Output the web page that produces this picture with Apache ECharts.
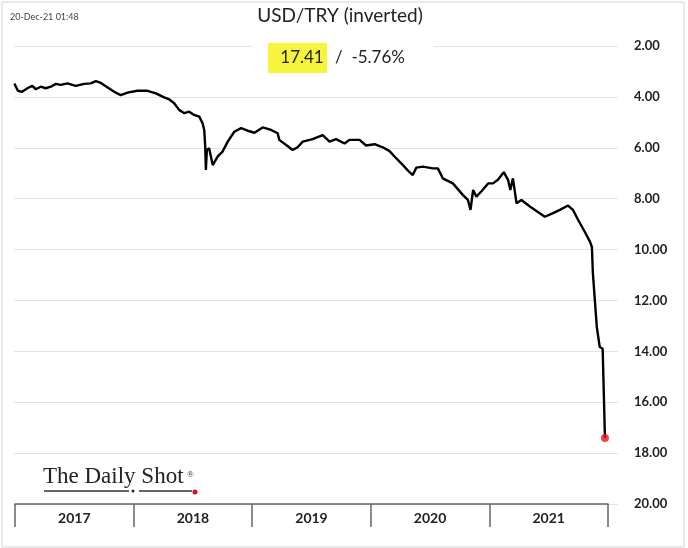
<!DOCTYPE html>
<html lang="en">
<head>
<meta charset="UTF-8">
<title>USD/TRY (inverted)</title>
<script src="https://cdn.jsdelivr.net/npm/echarts@6/dist/echarts.min.js"></script>
<style>
html, body { margin: 0; padding: 0; background: #fff; }
#chart { width: 688px; height: 548px; }
</style>
</head>
<body>
<div id="chart"></div>
<script>
// values (USD/TRY, axis inverted)
const dates = [
'2017-01-02','2017-01-06','2017-01-13','2017-01-26','2017-02-11','2017-02-26','2017-03-09','2017-03-24',
'2017-04-08','2017-04-24','2017-05-09','2017-05-24','2017-06-14','2017-07-09','2017-08-04','2017-08-24',
'2017-09-09','2017-09-24','2017-10-14','2017-11-04','2017-11-24','2017-12-15','2018-01-14','2018-02-14',
'2018-03-12','2018-04-06','2018-04-22','2018-05-07','2018-05-22','2018-06-07','2018-06-22','2018-07-07',
'2018-07-23','2018-08-02','2018-08-07','2018-08-10','2018-08-12','2018-08-15','2018-08-22','2018-09-02',
'2018-09-17','2018-10-02','2018-10-18','2018-11-07','2018-11-28','2018-12-18','2019-01-08','2019-02-02',
'2019-02-28','2019-03-20','2019-03-25','2019-04-15','2019-05-05','2019-05-20','2019-06-05','2019-07-05',
'2019-08-05','2019-08-26','2019-09-15','2019-10-11','2019-10-26','2019-11-26','2019-12-16','2020-01-11',
'2020-02-05','2020-02-26','2020-03-17','2020-04-07','2020-04-27','2020-05-07','2020-05-18','2020-06-07',
'2020-07-08','2020-07-23','2020-08-07','2020-09-07','2020-10-08','2020-10-23','2020-10-31','2020-11-08',
'2020-11-18','2020-12-03','2020-12-24','2021-01-08','2021-01-23','2021-02-10','2021-02-23','2021-03-02',
'2021-03-10','2021-03-21','2021-04-05','2021-05-01','2021-05-31','2021-06-16','2021-07-11','2021-08-01',
'2021-08-26','2021-09-10','2021-09-26','2021-10-16','2021-11-01','2021-11-07','2021-11-10','2021-11-16',
'2021-11-22','2021-12-01','2021-12-10','2021-12-17'
];
const rates = [
3.47,3.53,3.76,3.80,3.66,3.57,3.70,3.60,
3.66,3.60,3.49,3.53,3.47,3.57,3.49,3.47,
3.38,3.45,3.62,3.80,3.93,3.83,3.76,3.76,
3.86,4.02,4.10,4.25,4.51,4.64,4.58,4.71,
4.78,5.04,5.30,5.95,6.87,6.09,6.02,6.68,
6.35,6.15,5.76,5.37,5.23,5.33,5.41,5.20,
5.30,5.43,5.69,5.89,6.09,5.98,5.76,5.66,
5.50,5.76,5.66,5.83,5.69,5.69,5.91,5.86,
5.98,6.13,6.41,6.68,6.96,7.07,6.78,6.74,
6.81,6.81,7.20,7.40,7.86,8.05,8.44,7.66,
7.92,7.72,7.40,7.40,7.26,6.96,7.26,7.66,
7.20,8.18,8.05,8.31,8.57,8.71,8.57,8.44,
8.27,8.44,8.84,9.30,9.69,9.90,10.92,11.98,
13.04,13.83,13.90,17.41
];
const yTicks = [2, 4, 6, 8, 10, 12, 14, 16, 18, 20];
const years = ['2017', '2018', '2019', '2020', '2021'];
const lastLabel = '17.41';
const lastChange = '-5.76%';

const chart = echarts.init(document.getElementById('chart'));
const lineData = dates.map((d, i) => [d, rates[i]]);
const lastPoint = lineData[lineData.length - 1];

chart.setOption({
animation: false,
backgroundColor: '#fff',
textStyle: { fontFamily: 'Lato, sans-serif' },
grid: [
{ left: 14, right: 70, top: 46, bottom: 44 },
{ left: 15, right: 80, top: 46, bottom: 44 }
],
xAxis: [{
type: 'time',
gridIndex: 0,
min: '2017-01-01',
max: '2022-01-26',
axisLine: { show: false },
axisTick: { show: false },
axisLabel: { show: false },
splitLine: { show: false }
}, {
type: 'category',
gridIndex: 1,
data: years,
boundaryGap: true,
axisLine: { lineStyle: { color: '#666', width: 1.5 } },
axisTick: { show: true, interval: 0, length: 23, lineStyle: { color: '#666', width: 1.5 } },
axisLabel: { color: '#222', fontSize: 14, fontWeight: 'bold', margin: 7 },
splitLine: { show: false }
}],
yAxis: [{
type: 'value',
gridIndex: 0,
position: 'right',
inverse: true,
min: yTicks[0],
max: yTicks[yTicks.length - 1],
interval: 2,
axisLine: { show: false },
axisTick: { show: false },
axisLabel: {
margin: 16,
align: 'left',
color: '#222',
fontSize: 13,
fontWeight: 'bold',
formatter: v => v.toFixed(2)
},
splitLine: { lineStyle: { color: '#e3e3e3', width: 1 } }
}, {
type: 'value',
gridIndex: 1,
show: false
}],
series: [{
type: 'line',
xAxisIndex: 0,
yAxisIndex: 0,
data: lineData,
showSymbol: false,
lineStyle: { color: '#000', width: 2.4 },
z: 3
}, {
type: 'scatter',
xAxisIndex: 0,
yAxisIndex: 0,
data: [lastPoint],
symbolSize: 8,
itemStyle: { color: '#e8141b' },
z: 4
}],
graphic: [
// frame
{ type: 'rect', shape: { x: 2, y: 2, width: 682, height: 545 }, style: { fill: null, stroke: '#d4d4d4', lineWidth: 1 }, z: 0 },
// gap in top gridline behind the value box
{ type: 'rect', shape: { x: 252, y: 40, width: 182, height: 12 }, style: { fill: '#fff' }, z: 1 },
{ type: 'text', left: 10, top: 13, style: { text: '20-Dec-21 01:48', fill: '#444', font: '9px Lato' }, z: 5 },
{ type: 'text', x: 340, y: 16, style: { text: 'USD/TRY (inverted)', fill: '#222', font: '19px Lato', textAlign: 'center', textVerticalAlign: 'middle' }, z: 5 },
{ type: 'rect', shape: { x: 268, y: 43, width: 59, height: 30 }, style: { fill: '#f7f43e' }, z: 5 },
{ type: 'text', x: 302, y: 58, style: { text: lastLabel, fill: '#222', font: '17px Lato', textAlign: 'center', textVerticalAlign: 'middle' }, z: 6 },
{ type: 'text', x: 335, y: 58, style: { text: '/  ' + lastChange, fill: '#222', font: '17px Lato', textVerticalAlign: 'middle' }, z: 6 },
// The Daily Shot logo
{ type: 'text', x: 43, y: 488, style: { text: 'The Daily Shot', fill: '#222', font: '23px "Liberation Serif"', textVerticalAlign: 'bottom' }, z: 5 },
{ type: 'text', x: 187, y: 470, style: { text: '®', fill: '#222', font: '9px "Liberation Serif"' }, z: 5 },
{ type: 'line', shape: { x1: 44, y1: 491, x2: 129, y2: 491 }, style: { stroke: '#333', lineWidth: 1.5 }, z: 5 },
{ type: 'line', shape: { x1: 139, y1: 491, x2: 192, y2: 491 }, style: { stroke: '#333', lineWidth: 1.5 }, z: 5 },
{ type: 'circle', shape: { cx: 133, cy: 491, r: 1.5 }, style: { fill: '#222' }, z: 5 },
{ type: 'circle', shape: { cx: 195, cy: 492, r: 2.5 }, style: { fill: '#d0151b' }, z: 5 }
]
});
</script>
</body>
</html>
